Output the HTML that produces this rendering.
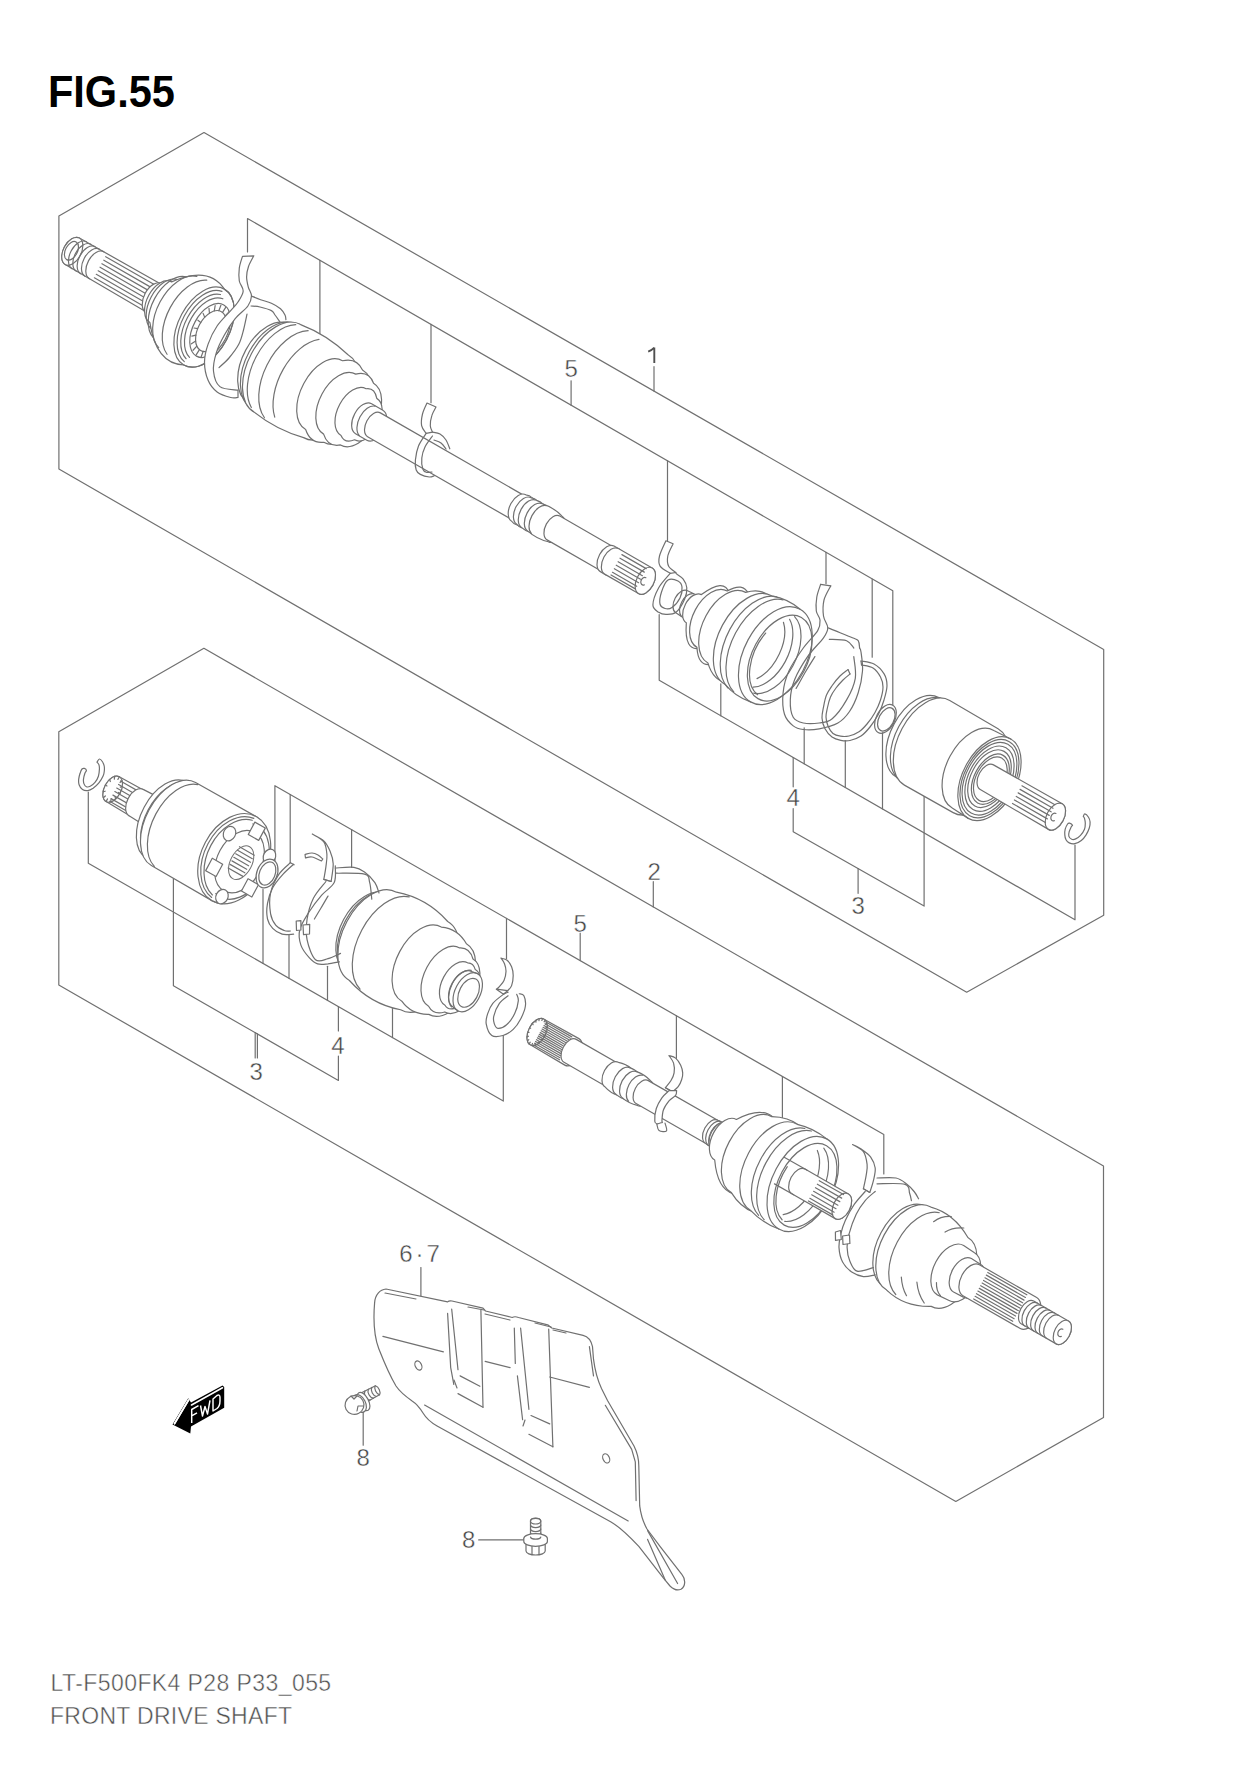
<!DOCTYPE html>
<html><head><meta charset="utf-8"><style>
html,body{margin:0;padding:0;background:#fff;width:1247px;height:1768px;overflow:hidden}
.t{position:absolute;font-family:"Liberation Sans",sans-serif;white-space:nowrap;margin:0;line-height:1}
svg{position:absolute;left:0;top:0}
</style></head><body>
<div class="t" style="left:48px;top:70.3px;font-size:44px;font-weight:bold;color:#000;transform:scaleX(0.943);transform-origin:0 0">FIG.55</div>
<svg width="1247" height="1768" viewBox="0 0 1247 1768" stroke="#707070" stroke-width="1.2" fill="none" stroke-linejoin="round" stroke-linecap="round">
<g id="boxes">
<polyline points="58.9,216.0 204.0,132.5 1103.7,649.5 1103.7,915.3 966.7,992.2 58.9,469.0 58.9,216.0" fill="none" />
<polyline points="58.8,731.8 203.9,648.3 1103.5,1166.0 1103.5,1417.6 955.8,1501.4 58.8,985.0 58.8,731.8" fill="none" />
</g>
<g id="leaders">
<polyline points="247.5,252.0 247.5,218.5 892.8,590.8 892.8,704.7" fill="none" />
<polyline points="319.9,260.3 319.9,339.9" fill="none" />
<polyline points="431.0,324.4 431.0,402.7" fill="none" />
<polyline points="667.5,460.8 667.5,541.4" fill="none" />
<polyline points="826.0,552.3 826.0,583.7" fill="none" />
<polyline points="872.2,579.0 872.2,657.2" fill="none" />
<polyline points="571.1,405.2 571.1,380.8" fill="none" />
<polyline points="654.0,391.1 654.0,366.7" fill="none" />
<polyline points="659.2,614.5 659.2,680.3 1075.0,919.8 1075.0,845.0" fill="none" />
<polyline points="720.8,715.8 720.8,683.8" fill="none" />
<polyline points="804.2,763.8 804.2,727.8" fill="none" />
<polyline points="845.3,787.5 845.3,740.6" fill="none" />
<polyline points="882.5,808.9 882.5,732.9" fill="none" />
<polyline points="793.2,757.5 793.2,786.8" fill="none" />
<polyline points="793.2,808.6 793.2,831.7 924.1,906.1 924.1,795.8" fill="none" />
<polyline points="858.1,868.6 858.1,893.3" fill="none" />
<polyline points="653.3,881.7 653.3,907.0" fill="none" />
<polyline points="274.9,861.3 274.9,785.7 883.8,1134.6 883.8,1174.0" fill="none" />
<polyline points="290.2,794.5 290.2,862.7" fill="none" />
<polyline points="351.6,829.6 351.6,867.5" fill="none" />
<polyline points="506.5,918.4 506.5,958.6" fill="none" />
<polyline points="676.4,1015.8 676.4,1060.0" fill="none" />
<polyline points="782.4,1076.5 782.4,1117.6" fill="none" />
<polyline points="580.2,960.6 580.2,933.0" fill="none" />
<polyline points="88.3,792.0 88.3,863.3 503.3,1101.1 503.3,1035.5" fill="none" />
<polyline points="263.0,963.4 263.0,889.5" fill="none" />
<polyline points="289.0,978.3 289.0,935.0" fill="none" />
<polyline points="327.5,1000.4 327.5,966.3" fill="none" />
<polyline points="392.5,1037.6 392.5,1008.6" fill="none" />
<polyline points="338.4,1006.6 338.4,1031.0" fill="none" />
<polyline points="338.4,1056.0 338.4,1080.4 173.4,985.8 173.4,878.7" fill="none" />
<polyline points="255.2,1032.7 255.2,1058.0" fill="none" />
<polyline points="257.4,1033.9 257.4,1058.0" fill="none" />
<polyline points="420.9,1267.6 420.9,1296.5" fill="none" />
<polyline points="363.2,1410.5 363.2,1445.2" fill="none" />
<polyline points="478.7,1539.9 526.3,1539.9" fill="none" />
</g>
<path d="M374.6,1302.9 C375,1295 380,1289.5 386,1289 L447.6,1301.9 C449,1300.5 450,1300.5 452,1301 L483,1308.1 L485.5,1311 L512.2,1317.5 C514,1316.5 516,1316.5 518.5,1317.5 L547.7,1324.8 L551.8,1328 L583.1,1335.3 C588,1336.5 591,1339.5 592.5,1346.7 L593.5,1359.2 C595,1371 597.5,1380 601.5,1388.5 L607.5,1400.5 L634,1446 C637,1452 638.8,1458 638.8,1466 L639.7,1505.9 C641,1516 643,1522 647,1529 L660,1546.4 L682,1574.7 C685.5,1579 686,1586 681,1589.3 C677,1591 673,1589 670,1586 L663.5,1578.2 L638.8,1546.4 C630,1537 620,1527 610.6,1521.7 L437.1,1426 C430,1422 426,1418 423,1413 C420,1408 417,1404 412.1,1400.9 C405,1396 400,1392 396,1386 C390,1376 384,1362 378.8,1348.8 C374,1336 373,1322 374.6,1302.9 Z" fill="#fff"/>
<polyline points="382.9,1336.3 443.4,1351.9" fill="none" />
<polyline points="485.1,1361.3 510.1,1367.6" fill="none" />
<polyline points="549.7,1377.0 589.4,1387.4" fill="none" />
<polyline points="424.6,1405.1 628.2,1520.9" fill="none" />
<polyline points="589.4,1346.7 593.5,1375.9" fill="none" />
<polyline points="605.3,1405.3 631.7,1449.4 635.3,1461.8 636.1,1500.6" fill="none" />
<polyline points="647.6,1530.6 677.6,1583.5" fill="none" />
<polyline points="647.6,1539.4 665.2,1580.0" fill="none" />
<polyline points="447.6,1313.4 450.7,1367.6 453.8,1384.3" fill="none" />
<polyline points="451.7,1309.2 458.0,1369.7" fill="none" />
<polyline points="480.9,1310.2 483.0,1407.2" fill="none" />
<polyline points="458.0,1393.6 483.0,1407.2" fill="none" />
<polyline points="460.1,1375.9 479.9,1386.3" fill="none" />
<polyline points="457.0,1388.0 454.0,1380.0" fill="none" />
<polyline points="514.3,1328.0 515.3,1363.4" fill="none" />
<polyline points="520.6,1328.0 528.9,1409.3" fill="none" />
<polyline points="517.4,1375.9 522.6,1419.7" fill="none" />
<polyline points="548.7,1329.0 552.9,1446.8" fill="none" />
<polyline points="528.9,1434.3 552.9,1446.8" fill="none" />
<polyline points="531.0,1415.5 549.7,1423.9" fill="none" />
<polyline points="525.0,1420.0 523.0,1426.0" fill="none" />
<polyline points="385.0,1293.0 416.0,1299.0" fill="none" />
<polyline points="468.0,1307.0 484.0,1310.0" fill="none" />
<polyline points="485.0,1314.0 510.0,1320.0" fill="none" />
<polyline points="535.0,1323.0 551.0,1327.0" fill="none" />
<polyline points="553.0,1330.0 566.0,1333.0" fill="none" />
<ellipse cx="418.4" cy="1365.5" rx="3.2" ry="4.8" transform="rotate(-25 418.4 1365.5)"/>
<ellipse cx="606.2" cy="1458.4" rx="3.2" ry="4.8" transform="rotate(-25 606.2 1458.4)"/>
<g>
<path d="M362,1392.5 L375.5,1385.8 A3.6,5.6 -28 0 1 379.5,1394.8 L367.5,1401.5" fill="#fff"/>
<path d="M364.9,1391.0 A3.6,5.6 -28 0 0 370.2,1400.0" fill="none"/>
<path d="M368.4,1389.2 A3.6,5.6 -28 0 0 373.4,1398.2" fill="none"/>
<path d="M371.8,1387.5 A3.6,5.6 -28 0 0 376.5,1396.5" fill="none"/>
<path d="M375.2,1385.8 A3.6,5.6 -28 0 0 379.6,1394.8" fill="none"/>
<ellipse cx="363.5" cy="1401.5" rx="5" ry="10" transform="rotate(-28 363.5 1401.5)" fill="#fff"/>
<ellipse cx="359.5" cy="1403.5" rx="6" ry="9.5" transform="rotate(-28 359.5 1403.5)" fill="#fff"/>
<ellipse cx="354.5" cy="1405" rx="9.5" ry="9.3" transform="rotate(-28 354.5 1405)" fill="#fff"/>
<path d="M351,1396 L354,1399 L357,1396 M357,1411 L358,1406 L363,1406" fill="none"/>
</g>
<g>
<path d="M530.5,1537 L530.5,1521 A5.2,3 0 0 1 540.8,1521 L540.8,1537" fill="#fff"/>
<ellipse cx="535.6" cy="1521" rx="5.2" ry="3"/>
<path d="M530.5,1525 A5.2,3 0 0 0 540.8,1525" fill="none"/>
<path d="M530.5,1529 A5.2,3 0 0 0 540.8,1529" fill="none"/>
<path d="M530.5,1533 A5.2,3 0 0 0 540.8,1533" fill="none"/>
<path d="M526,1543 L526,1551 A9.6,4 0 0 0 545.2,1551 L545.2,1543" fill="#fff"/>
<path d="M532,1546 L532,1554.5 M539,1546 L539,1554.5" fill="none"/>
<ellipse cx="535.6" cy="1538.5" rx="11.8" ry="4.8" fill="#fff"/>
<path d="M523.8,1538.5 L523.8,1541.5 A11.8,4.8 0 0 0 547.4,1541.5 L547.4,1538.5" fill="#fff"/>
<path d="M530.5,1537 A5.2,2.5 0 0 0 540.8,1537" fill="none"/>
</g>
<g stroke="none">
<polygon points="172.5,1424.5 188.2,1398.2 191,1402.5 222.5,1385.5 224.2,1387 224.2,1407.8 191,1426.4 190.3,1433.5" fill="#000"/>
<polyline points="174.5,1423.8 188.6,1400.2 M0,0" fill="none" stroke="#fff" stroke-width="1.6"/>
<polyline points="191.5,1405 222.5,1387.8" fill="none" stroke="#fff" stroke-width="1.6"/>
<path d="M174.5,1423.5 L188.5,1400" stroke="#fff" stroke-width="1.6"/>
<g fill="none" stroke="#fff" stroke-width="1.45" stroke-linecap="butt">
<path d="M191.7,1423 L191.7,1409.5 L198.5,1405.7 M191.7,1415.8 L197,1412.8"/>
<path d="M200.5,1405.5 L202.5,1416 L205,1406.5 L207.5,1414 L210,1400.3"/>
<path d="M213,1399 L213,1411 L217,1408.5 Q220,1406 220,1401 L220,1397.5 Q220,1394 217,1395.5 Z"/>
</g></g>
<g transform="translate(72.3,251.3) rotate(29.9) skewX(1.72)">
<path d="M0.0,-15.0 A9.0,15.0 0 0 0 0.0,15.0 L96.0,15.8 A9.5,15.8 0 0 0 96.0,-15.8 Z" fill="#fff"/>
<ellipse cx="0.0" cy="0" rx="9.0" ry="15.0" fill="#fff" />
<ellipse cx="-1.0" cy="0" rx="6.0" ry="10.0" fill="none" />
<path d="M8.0,15.3 A9.2,15.3 0 0 1 8.0,-15.3" fill="none" />
<path d="M13.0,15.3 A9.2,15.3 0 0 1 13.0,-15.3" fill="none" />
<path d="M18.0,15.3 A9.2,15.3 0 0 1 18.0,-15.3" fill="none" />
<path d="M23.0,15.3 A9.2,15.3 0 0 1 23.0,-15.3" fill="none" />
<path d="M28.0,15.3 A9.2,15.3 0 0 1 28.0,-15.3" fill="none" />
<polyline points="32.0,-12.0 92.0,-12.0" fill="none" />
<polyline points="32.0,-8.0 92.0,-8.0" fill="none" />
<polyline points="32.0,-4.0 92.0,-4.0" fill="none" />
<polyline points="32.0,0.0 92.0,0.0" fill="none" />
<polyline points="32.0,4.0 92.0,4.0" fill="none" />
<polyline points="32.0,8.0 92.0,8.0" fill="none" />
<polyline points="32.0,12.0 92.0,12.0" fill="none" />
<path d="M94.0,-16.5 A9.9,16.5 0 0 0 94.0,16.5 Q99.0,19.8 104.0,22.0 A13.2,22.0 0 0 0 104.0,-22.0 Q99.0,-19.8 94.0,-16.5 Z" fill="#fff"/>
<path d="M102.0,-23.0 A13.8,23.0 0 0 0 102.0,23.0 Q127.0,56.0 152.0,43.0 A25.8,43.0 0 0 0 152.0,-43.0 Q127.0,-56.0 102.0,-23.0 Z" fill="#fff"/>
<path d="M105.1,27.6 A16.8,28.0 0 0 1 105.1,-27.6" fill="none" />
<path d="M112.4,34.5 A21.0,35.0 0 0 1 112.4,-34.5" fill="none" />
<path d="M121.7,40.4 A24.6,41.0 0 0 1 121.7,-40.4" fill="none" />
<path d="M132.2,42.0 A26.1,43.5 0 0 1 132.2,-42.0" fill="none" />
<ellipse cx="152.0" cy="0" rx="25.8" ry="43.0" fill="none" />
<path d="M150.9,39.8 A24.0,40.0 0 0 1 150.9,-39.8" fill="none" />
<path d="M151.1,36.4 A22.2,37.0 0 0 1 151.1,-36.4" fill="none" />
<path d="M153.5,33.5 A20.4,34.0 0 0 1 155.2,-33.9" fill="none" />
<ellipse cx="159.0" cy="0" rx="17.4" ry="29.0" fill="none" />
<ellipse cx="160.0" cy="0" rx="13.2" ry="22.0" fill="none" />
<polyline points="166.6,19.1 168.4,24.2" fill="none" />
<polyline points="162.7,21.5 163.5,27.4" fill="none" />
<polyline points="158.6,21.9 158.2,27.8" fill="none" />
<polyline points="154.6,20.1 153.2,25.6" fill="none" />
<polyline points="151.2,16.3 148.8,20.8" fill="none" />
<polyline points="148.6,11.0 145.5,14.0" fill="none" />
<polyline points="147.1,4.6 143.6,5.8" fill="none" />
<polyline points="146.9,-2.3 143.3,-2.9" fill="none" />
<polyline points="147.9,-8.9 144.7,-11.4" fill="none" />
<polyline points="150.2,-14.7 147.5,-18.7" fill="none" />
<polyline points="153.4,-19.1 151.6,-24.2" fill="none" />
<polyline points="157.3,-21.5 156.5,-27.4" fill="none" />
<polyline points="161.4,-21.9 161.8,-27.8" fill="none" />
<polyline points="165.4,-20.1 166.8,-25.6" fill="none" />
<g transform="translate(0,-0.8)">
<path d="M226.0,-44.0 A26.4,44.0 0 0 0 226.0,44.0 Q232.0,50.5 238.0,49.0 A29.4,49.0 0 0 0 238.0,-49.0 Q232.0,-50.5 226.0,-44.0 Z" fill="#fff"/>
<path d="M232.0,47.5 A28.5,47.5 0 0 1 232.0,-47.5" fill="none" />
<path d="M236.0,-49.5 A29.7,49.5 0 0 0 236.0,49.5 Q264.0,53.8 292.0,47.0 A28.2,47.0 0 0 0 292.0,-47.0 Q264.0,-53.8 236.0,-49.5 Z" fill="#fff"/>
<path d="M231.7,47.0 A30.0,50.0 0 0 1 231.7,-47.0" fill="none" />
<path d="M248.1,49.3 A30.6,51.0 0 0 1 245.5,-47.9" fill="none" />
<path d="M256.9,43.7 A30.3,50.5 0 0 1 259.2,-45.8" fill="none" />
<path d="M290.0,-39.0 A23.4,39.0 0 0 0 290.0,39.0 Q301.0,49.0 312.0,41.0 A24.6,41.0 0 0 0 312.0,-41.0 Q301.0,-49.0 290.0,-39.0 Z" fill="#fff"/>
<path d="M308.0,-34.0 A20.4,34.0 0 0 0 308.0,34.0 Q318.0,43.5 328.0,35.0 A21.0,35.0 0 0 0 328.0,-35.0 Q318.0,-43.5 308.0,-34.0 Z" fill="#fff"/>
<path d="M324.0,-26.5 A15.9,26.5 0 0 0 324.0,26.5 Q331.0,32.0 338.0,23.5 A14.1,23.5 0 0 0 338.0,-23.5 Q331.0,-32.0 324.0,-26.5 Z" fill="#fff"/>
</g>
<path d="M336.0,-17.0 A10.2,17.0 0 0 0 336.0,17.0 L349.0,17.0 A10.2,17.0 0 0 0 349.0,-17.0 Z" fill="#fff"/>
<path d="M340.2,16.7 A10.2,17.0 0 0 1 340.2,-16.7" fill="none" />
<path d="M348.0,-13.5 A8.1,13.5 0 0 0 348.0,13.5 L518.0,13.5 A8.1,13.5 0 0 0 518.0,-13.5 Z" fill="#fff"/>
<path d="M515.0,-15.0 A9.0,15.0 0 0 0 515.0,15.0 Q518.5,16.8 522.0,15.5 A9.3,15.5 0 0 0 522.0,-15.5 Q518.5,-16.8 515.0,-15.0 Z" fill="#fff"/>
<path d="M521.0,-15.0 A9.0,15.0 0 0 0 521.0,15.0 Q524.5,16.8 528.0,15.5 A9.3,15.5 0 0 0 528.0,-15.5 Q524.5,-16.8 521.0,-15.0 Z" fill="#fff"/>
<path d="M527.0,-15.5 A9.3,15.5 0 0 0 527.0,15.5 Q531.0,16.5 535.0,15.5 A9.3,15.5 0 0 0 535.0,-15.5 Q531.0,-16.5 527.0,-15.5 Z" fill="#fff"/>
<path d="M534.0,-15.5 A9.3,15.5 0 0 0 534.0,15.5 Q545.5,18.0 557.0,14.5 A8.7,14.5 0 0 0 557.0,-14.5 Q545.5,-18.0 534.0,-15.5 Z" fill="#fff"/>
<path d="M538.3,15.8 A9.6,16.0 0 0 1 538.3,-15.8" fill="none" />
<path d="M555.0,-13.5 A8.1,13.5 0 0 0 555.0,13.5 L620.0,13.5 A8.1,13.5 0 0 0 620.0,-13.5 Z" fill="#fff"/>
<path d="M617.0,-14.5 A8.7,14.5 0 0 0 617.0,14.5 L623.0,14.5 A8.7,14.5 0 0 0 623.0,-14.5 Z" fill="#fff"/>
<path d="M622.0,-14.5 A8.7,14.5 0 0 0 622.0,14.5 L661.0,14.5 A8.7,14.5 0 0 0 661.0,-14.5 Z" fill="#fff"/>
<ellipse cx="661.0" cy="0" rx="8.7" ry="14.5" fill="#fff" />
<polyline points="628.0,-11.0 656.0,-11.0" fill="none" />
<polyline points="628.0,-7.0 656.0,-7.0" fill="none" />
<polyline points="628.0,-3.0 656.0,-3.0" fill="none" />
<polyline points="628.0,1.0 656.0,1.0" fill="none" />
<polyline points="628.0,5.0 656.0,5.0" fill="none" />
<polyline points="628.0,9.0 656.0,9.0" fill="none" />
<polyline points="628.0,12.0 656.0,12.0" fill="none" />
<path d="M660,-3 A3,4 0 1 0 662,4" fill="none"/>
<path d="M703.0,-12.5 A7.5,12.5 0 0 0 703.0,12.5 L719.0,13.5 A8.1,13.5 0 0 0 719.0,-13.5 Z" fill="#fff"/>
<path d="M709.6,12.8 A7.8,13.0 0 0 1 709.6,-12.8" fill="none" />
<path d="M717.0,-16.0 A9.6,16.0 0 0 0 717.0,16.0 Q729.0,42.5 741.0,31.0 A18.6,31.0 0 0 0 741.0,-31.0 Q729.0,-42.5 717.0,-16.0 Z" fill="#fff"/>
<path d="M738.0,-32.0 A19.2,32.0 0 0 0 738.0,32.0 Q748.0,48.0 758.0,40.0 A24.0,40.0 0 0 0 758.0,-40.0 Q748.0,-48.0 738.0,-32.0 Z" fill="#fff"/>
<path d="M755.0,-40.0 A24.0,40.0 0 0 0 755.0,40.0 Q768.5,53.5 782.0,47.0 A28.2,47.0 0 0 0 782.0,-47.0 Q768.5,-53.5 755.0,-40.0 Z" fill="#fff"/>
<path d="M780.0,-50.0 A30.0,50.0 0 0 0 780.0,50.0 Q795.5,55.8 811.0,52.5 A31.5,52.5 0 0 0 811.0,-52.5 Q795.5,-55.8 780.0,-50.0 Z" fill="#fff"/>
<path d="M811.0,-52.5 A31.5,52.5 0 0 0 811.0,52.5" fill="none"/>
<path d="M784.5,51.7 A31.5,52.5 0 0 1 784.5,-51.7" fill="none" />
<path d="M791.5,52.2 A31.8,53.0 0 0 1 791.5,-52.2" fill="none" />
<ellipse cx="816.0" cy="0" rx="27.6" ry="46.0" fill="none" />
<path d="M809.6,-43.3 A26.4,44.0 0 0 1 809.6,43.3" fill="none" />
<path d="M806.4,-38.5 A24.6,41.0 0 0 1 806.4,38.5" fill="none" />
<path d="M802.4,-32.9 A22.8,38.0 0 0 1 805.7,29.1" fill="none" />
<path d="M813.8,42.8 A25.8,43.0 0 0 1 791.8,-14.7" fill="none" />
<ellipse cx="938.0" cy="0" rx="9.3" ry="15.5" fill="none" />
<ellipse cx="939.0" cy="0" rx="7.5" ry="12.5" fill="none" />
<path d="M975.0,-45.0 A27.0,45.0 0 0 0 975.0,45.0 L988.0,47.0 A28.2,47.0 0 0 0 988.0,-47.0 Z" fill="#fff"/>
<path d="M976.2,45.3 A27.6,46.0 0 0 1 976.2,-45.3" fill="none" />
<path d="M986.0,-48.0 A28.8,48.0 0 0 0 986.0,48.0 L1042.0,47.5 A28.5,47.5 0 0 0 1042.0,-47.5 Z" fill="#fff"/>
<path d="M1039.0,-44.0 A26.4,44.0 0 0 0 1039.0,44.0 L1058.0,45.0 A27.0,45.0 0 0 0 1058.0,-45.0 Z" fill="#fff"/>
<path d="M1058.0,-45.0 A27.0,45.0 0 0 0 1058.0,45.0" fill="none"/>
<ellipse cx="1058.0" cy="0" rx="25.2" ry="42.0" fill="none" />
<ellipse cx="1058.0" cy="0" rx="23.4" ry="39.0" fill="none" />
<ellipse cx="1058.0" cy="0" rx="21.0" ry="35.0" fill="none" />
<ellipse cx="1058.0" cy="0" rx="18.6" ry="31.0" fill="none" />
<ellipse cx="1059.0" cy="0" rx="16.2" ry="27.0" fill="none" />
<ellipse cx="1059.0" cy="0" rx="14.4" ry="24.0" fill="none" />
<path d="M1055.0,-14.0 A8.4,14.0 0 0 0 1055.0,14.0 L1134.0,14.5 A8.7,14.5 0 0 0 1134.0,-14.5 Z" fill="#fff"/>
<ellipse cx="1134.0" cy="0" rx="8.7" ry="14.5" fill="#fff" />
<polyline points="1090.0,-10.0 1128.0,-10.0" fill="none" />
<polyline points="1090.0,-6.0 1128.0,-6.0" fill="none" />
<polyline points="1090.0,-2.0 1128.0,-2.0" fill="none" />
<polyline points="1090.0,2.0 1128.0,2.0" fill="none" />
<polyline points="1090.0,6.0 1128.0,6.0" fill="none" />
<polyline points="1090.0,10.0 1128.0,10.0" fill="none" />
<path d="M1133,-3 A3,4 0 1 0 1135,4" fill="none"/>
</g>
<path d="M1083.3,816.4 C1083.6,816.0 1084.0,813.7 1084.9,813.8 C1085.8,813.9 1087.6,815.8 1088.5,817.2 C1089.4,818.6 1090.0,820.2 1090.1,822.0 C1090.2,823.8 1090.0,825.9 1089.3,828.0 C1088.6,830.1 1087.4,832.8 1086.1,834.9 C1084.8,837.0 1083.2,839.0 1081.3,840.5 C1079.4,842.0 1076.9,843.3 1074.9,843.7 C1072.9,844.1 1070.7,843.6 1069.2,842.9 C1067.7,842.2 1066.7,841.0 1066.0,839.7 C1065.3,838.4 1064.9,836.6 1064.8,834.9 C1064.7,833.1 1064.7,831.0 1065.2,829.2 C1065.7,827.4 1066.9,825.0 1067.6,824.0 C1068.3,823.0 1068.8,823.0 1069.6,823.2 C1070.4,823.4 1072.2,824.6 1072.5,825.2 C1072.8,825.8 1071.8,825.7 1071.3,826.8 C1070.8,827.9 1069.6,830.2 1069.2,831.7 C1068.8,833.2 1068.4,834.8 1068.8,836.1 C1069.2,837.4 1070.5,838.8 1071.7,839.3 C1072.9,839.8 1074.2,839.6 1075.7,838.9 C1077.2,838.2 1079.0,836.9 1080.5,835.3 C1082.0,833.7 1083.7,831.2 1084.5,829.2 C1085.3,827.2 1085.3,825.0 1085.3,823.2 C1085.3,821.4 1084.8,819.5 1084.5,818.4 C1084.2,817.3 1083.5,816.7 1083.3,816.4" fill="none" />
<g transform="translate(112.7,789.2) rotate(29.77) skewX(1.72)">
<path d="M0.0,-14.0 A8.4,14.0 0 0 0 0.0,14.0 L29.0,14.5 A8.7,14.5 0 0 0 29.0,-14.5 Z" fill="#fff"/>
<ellipse cx="0.0" cy="0" rx="8.4" ry="14.0" fill="#fff" />
<polyline points="3.0,-11.0 29.0,-11.0" fill="none" />
<polyline points="3.0,-7.0 29.0,-7.0" fill="none" />
<polyline points="3.0,-3.0 29.0,-3.0" fill="none" />
<polyline points="3.0,1.0 29.0,1.0" fill="none" />
<polyline points="3.0,5.0 29.0,5.0" fill="none" />
<polyline points="3.0,9.0 29.0,9.0" fill="none" />
<polyline points="3.0,12.0 29.0,12.0" fill="none" />
<polyline points="8.4,0.0 6.6,0.0" fill="none" />
<polyline points="7.3,7.0 5.7,5.5" fill="none" />
<polyline points="4.2,12.1 3.3,9.5" fill="none" />
<polyline points="0.0,14.0 0.0,11.0" fill="none" />
<polyline points="-4.2,12.1 -3.3,9.5" fill="none" />
<polyline points="-7.3,7.0 -5.7,5.5" fill="none" />
<polyline points="-8.4,0.0 -6.6,0.0" fill="none" />
<polyline points="-7.3,-7.0 -5.7,-5.5" fill="none" />
<polyline points="-4.2,-12.1 -3.3,-9.5" fill="none" />
<polyline points="-0.0,-14.0 -0.0,-11.0" fill="none" />
<polyline points="4.2,-12.1 3.3,-9.5" fill="none" />
<polyline points="7.3,-7.0 5.7,-5.5" fill="none" />
<path d="M27.0,-15.0 A9.0,15.0 0 0 0 27.0,15.0 L64.0,16.5 A9.9,16.5 0 0 0 64.0,-16.5 Z" fill="#fff"/>
<path d="M62.0,-43.0 A25.8,43.0 0 0 0 62.0,43.0 L72.0,44.0 A26.4,44.0 0 0 0 72.0,-44.0 Z" fill="#fff"/>
<path d="M62.5,42.8 A26.1,43.5 0 0 1 62.5,-42.8" fill="none" />
<path d="M70.0,-47.0 A28.2,47.0 0 0 0 70.0,47.0 L140.0,47.5 A28.5,47.5 0 0 0 140.0,-47.5 Z" fill="#fff"/>
<path d="M73.1,46.3 A28.2,47.0 0 0 1 73.1,-46.3" fill="none" />
<ellipse cx="140.0" cy="0" rx="33.2" ry="47.5" fill="#fff" />
<path d="M138.3,44.8 A31.5,45.0 0 0 1 138.3,-44.8" fill="none" />
<path d="M137.8,42.3 A30.1,43.0 0 0 1 137.8,-42.3" fill="none" />
<path d="M140.1,-39.4 A28.0,40.0 0 1 1 140.1,39.4" fill="none" />
<ellipse cx="146.0" cy="0" rx="22.4" ry="33.0" fill="none" />
<ellipse cx="148.0" cy="0" rx="10.8" ry="18.0" fill="none" stroke-width="1"/>
<polyline points="139.0,-13.0 156.0,-13.0" fill="none" />
<polyline points="139.0,-9.0 156.0,-9.0" fill="none" />
<polyline points="139.0,-5.0 156.0,-5.0" fill="none" />
<polyline points="139.0,-1.0 156.0,-1.0" fill="none" />
<polyline points="139.0,3.0 156.0,3.0" fill="none" />
<polyline points="139.0,7.0 156.0,7.0" fill="none" />
<polyline points="139.0,11.0 156.0,11.0" fill="none" />
<rect x="161.6" y="10.5" width="12" height="14" fill="#fff"/>
<rect x="120.4" y="10.5" width="12" height="14" fill="#fff"/>
<rect x="141.0" y="-42.0" width="12" height="14" fill="#fff"/>
<ellipse cx="147.0" cy="39.0" rx="6" ry="7.5" fill="#fff"/>
<ellipse cx="124.0" cy="-19.5" rx="6" ry="7.5" fill="#fff"/>
<ellipse cx="170.0" cy="-19.5" rx="6" ry="7.5" fill="#fff"/>
<g transform="translate(0,-1.5)">
<path d="M291.0,-43.0 A25.8,43.0 0 0 0 291.0,43.0 Q296.0,48.5 301.0,48.0 A28.8,48.0 0 0 0 301.0,-48.0 Q296.0,-48.5 291.0,-43.0 Z" fill="#fff"/>
<path d="M295.0,46.0 A27.6,46.0 0 0 1 295.0,-46.0" fill="none" />
<path d="M298.0,47.5 A28.5,47.5 0 0 1 298.0,-47.5" fill="none" />
<path d="M299.0,-50.0 A30.0,50.0 0 0 0 299.0,50.0 Q328.5,60.0 358.0,50.0 A30.0,50.0 0 0 0 358.0,-50.0 Q328.5,-60.0 299.0,-50.0 Z" fill="#fff"/>
<path d="M312.5,52.2 A31.8,53.0 0 0 1 312.5,-52.2" fill="none" />
<path d="M355.0,-42.0 A25.2,42.0 0 0 0 355.0,42.0 Q370.0,49.0 385.0,40.0 A24.0,40.0 0 0 0 385.0,-40.0 Q370.0,-49.0 355.0,-42.0 Z" fill="#fff"/>
<path d="M381.0,-33.0 A19.8,33.0 0 0 0 381.0,33.0 Q389.5,38.5 398.0,30.0 A18.0,30.0 0 0 0 398.0,-30.0 Q389.5,-38.5 381.0,-33.0 Z" fill="#fff"/>
<path d="M395.0,-24.0 A14.4,24.0 0 0 0 395.0,24.0 Q400.0,27.0 405.0,22.0 A13.2,22.0 0 0 0 405.0,-22.0 Q400.0,-27.0 395.0,-24.0 Z" fill="#fff"/>
</g>
<path d="M403.0,-20.0 A12.0,20.0 0 0 0 403.0,20.0 L409.0,21.0 A12.6,21.0 0 0 0 409.0,-21.0 Z" fill="#fff"/>
<path d="M409.0,-21.0 A12.6,21.0 0 0 0 409.0,21.0" fill="none"/>
<ellipse cx="410.0" cy="0" rx="9.3" ry="15.5" fill="none" />
<path d="M401.8,20.7 A12.6,21.0 0 0 1 401.8,-20.7" fill="none" />
<path d="M489.0,-14.5 A8.7,14.5 0 0 0 489.0,14.5 L529.0,15.0 A9.0,15.0 0 0 0 529.0,-15.0 Z" fill="#fff"/>
<ellipse cx="489.0" cy="0" rx="8.7" ry="14.5" fill="#fff" />
<polyline points="492.0,-13.0 521.9,-13.0" fill="none" />
<polyline points="492.0,-11.0 521.3,-11.0" fill="none" />
<polyline points="492.0,-9.0 520.7,-9.0" fill="none" />
<polyline points="492.0,-7.0 520.1,-7.0" fill="none" />
<polyline points="492.0,-5.0 519.5,-5.0" fill="none" />
<polyline points="492.0,-3.0 518.9,-3.0" fill="none" />
<polyline points="492.0,-1.0 518.3,-1.0" fill="none" />
<polyline points="492.0,1.0 518.3,1.0" fill="none" />
<polyline points="492.0,3.0 518.9,3.0" fill="none" />
<polyline points="492.0,5.0 519.5,5.0" fill="none" />
<polyline points="492.0,7.0 520.1,7.0" fill="none" />
<polyline points="492.0,9.0 520.7,9.0" fill="none" />
<polyline points="492.0,11.0 521.3,11.0" fill="none" />
<polyline points="492.0,13.0 521.9,13.0" fill="none" />
<polyline points="497.7,0.0 496.5,0.0" fill="none" />
<polyline points="497.2,5.0 496.0,4.3" fill="none" />
<polyline points="495.7,9.3 494.7,8.0" fill="none" />
<polyline points="493.4,12.6 492.8,10.8" fill="none" />
<polyline points="490.5,14.3 490.3,12.3" fill="none" />
<polyline points="487.5,14.3 487.7,12.3" fill="none" />
<polyline points="484.6,12.6 485.2,10.8" fill="none" />
<polyline points="482.3,9.3 483.3,8.0" fill="none" />
<polyline points="480.8,5.0 482.0,4.3" fill="none" />
<polyline points="480.3,0.0 481.5,0.0" fill="none" />
<polyline points="480.8,-5.0 482.0,-4.3" fill="none" />
<polyline points="482.3,-9.3 483.3,-8.0" fill="none" />
<polyline points="484.6,-12.6 485.2,-10.8" fill="none" />
<polyline points="487.5,-14.3 487.7,-12.3" fill="none" />
<polyline points="490.5,-14.3 490.3,-12.3" fill="none" />
<polyline points="493.4,-12.6 492.8,-10.8" fill="none" />
<polyline points="495.7,-9.3 494.7,-8.0" fill="none" />
<polyline points="497.2,-5.0 496.0,-4.3" fill="none" />
<path d="M527.0,-13.0 A7.8,13.0 0 0 0 527.0,13.0 L578.0,13.0 A7.8,13.0 0 0 0 578.0,-13.0 Z" fill="#fff"/>
<path d="M575.0,-14.0 A8.4,14.0 0 0 0 575.0,14.0 Q582.5,16.5 590.0,15.0 A9.0,15.0 0 0 0 590.0,-15.0 Q582.5,-16.5 575.0,-14.0 Z" fill="#fff"/>
<path d="M588.0,-15.0 A9.0,15.0 0 0 0 588.0,15.0 Q593.0,16.0 598.0,15.0 A9.0,15.0 0 0 0 598.0,-15.0 Q593.0,-16.0 588.0,-15.0 Z" fill="#fff"/>
<path d="M596.0,-15.0 A9.0,15.0 0 0 0 596.0,15.0 Q604.0,16.5 612.0,14.0 A8.4,14.0 0 0 0 612.0,-14.0 Q604.0,-16.5 596.0,-15.0 Z" fill="#fff"/>
<path d="M602.4,14.8 A9.0,15.0 0 0 1 602.4,-14.8" fill="none" />
<path d="M610.0,-13.0 A7.8,13.0 0 0 0 610.0,13.0 L705.0,13.0 A7.8,13.0 0 0 0 705.0,-13.0 Z" fill="#fff"/>
<path d="M690.0,-13.0 A7.8,13.0 0 0 0 690.0,13.0 L701.0,14.5 A8.7,14.5 0 0 0 701.0,-14.5 Z" fill="#fff"/>
<path d="M692.6,13.3 A8.1,13.5 0 0 1 692.6,-13.3" fill="none" />
<path d="M696.5,13.8 A8.4,14.0 0 0 1 696.5,-13.8" fill="none" />
<path d="M699.0,-15.0 A9.0,15.0 0 0 0 699.0,15.0 Q703.5,19.5 708.0,22.0 A13.2,22.0 0 0 0 708.0,-22.0 Q703.5,-19.5 699.0,-15.0 Z" fill="#fff"/>
<path d="M706.0,-23.0 A13.8,23.0 0 0 0 706.0,23.0 Q722.0,47.0 738.0,43.0 A25.8,43.0 0 0 0 738.0,-43.0 Q722.0,-47.0 706.0,-23.0 Z" fill="#fff"/>
<path d="M736.0,-43.0 A25.8,43.0 0 0 0 736.0,43.0 Q750.5,51.0 765.0,49.0 A29.4,49.0 0 0 0 765.0,-49.0 Q750.5,-51.0 736.0,-43.0 Z" fill="#fff"/>
<path d="M762.0,-49.0 A29.4,49.0 0 0 0 762.0,49.0 Q778.5,54.0 795.0,51.0 A30.6,51.0 0 0 0 795.0,-51.0 Q778.5,-54.0 762.0,-49.0 Z" fill="#fff"/>
<path d="M795.0,-51.0 A30.6,51.0 0 0 0 795.0,51.0" fill="none"/>
<path d="M770.8,49.2 A30.0,50.0 0 0 1 770.8,-49.2" fill="none" />
<path d="M777.7,50.2 A30.6,51.0 0 0 1 777.7,-50.2" fill="none" />
<ellipse cx="798.0" cy="0" rx="27.0" ry="45.0" fill="none" />
<path d="M796.7,-41.5 A25.8,43.0 0 0 1 796.7,41.5" fill="none" />
<path d="M792.1,-36.3 A24.0,40.0 0 0 1 792.1,36.3" fill="none" />
<path d="M793.6,41.4 A25.2,42.0 0 0 1 773.2,-7.3" fill="none" />
<path d="M790.0,-14.0 A8.4,14.0 0 0 0 790.0,14.0 L840.0,14.0 A8.4,14.0 0 0 0 840.0,-14.0 Z" fill="#fff"/>
<ellipse cx="840.0" cy="0" rx="8.4" ry="14.0" fill="#fff" />
<polyline points="808.0,-11.0 836.0,-11.0" fill="none" />
<polyline points="808.0,-7.0 836.0,-7.0" fill="none" />
<polyline points="808.0,-3.0 836.0,-3.0" fill="none" />
<polyline points="808.0,1.0 836.0,1.0" fill="none" />
<polyline points="808.0,5.0 836.0,5.0" fill="none" />
<polyline points="808.0,9.0 836.0,9.0" fill="none" />
<polyline points="808.0,12.0 836.0,12.0" fill="none" />
<polyline points="792.0,-14.0 766.0,-14.0" fill="none" />
<polyline points="792.0,14.0 770.0,14.0" fill="none" />
<g transform="translate(0,3.5)">
<path d="M914.0,-45.0 A27.0,45.0 0 0 0 914.0,45.0 L921.0,47.0 A28.2,47.0 0 0 0 921.0,-47.0 Z" fill="#fff"/>
<path d="M919.0,-47.0 A28.2,47.0 0 0 0 919.0,47.0 Q942.5,53.0 966.0,39.0 A23.4,39.0 0 0 0 966.0,-39.0 Q942.5,-53.0 919.0,-47.0 Z" fill="#fff"/>
<path d="M929.1,46.3 A28.2,47.0 0 0 1 929.1,-46.3" fill="none" />
</g>
<g transform="translate(0,1.5)">
<path d="M966.0,-28.0 A16.8,28.0 0 0 0 966.0,28.0 L979.0,27.0 A16.2,27.0 0 0 0 979.0,-27.0 Z" fill="#fff"/>
<path d="M969.1,27.1 A16.5,27.5 0 0 1 959.4,17.7" fill="none" />
</g>
<path d="M979.0,-19.0 A11.4,19.0 0 0 0 979.0,19.0 L990.0,18.5 A11.1,18.5 0 0 0 990.0,-18.5 Z" fill="#fff"/>
<path d="M989.0,-17.5 A10.5,17.5 0 0 0 989.0,17.5 L1055.0,17.5 A10.5,17.5 0 0 0 1055.0,-17.5 Z" fill="#fff"/>
<polyline points="1000.0,-15.0 1045.0,-15.0" fill="none" />
<polyline points="1000.0,-12.0 1045.0,-12.0" fill="none" />
<polyline points="1000.0,-9.0 1045.0,-9.0" fill="none" />
<polyline points="1000.0,-6.0 1045.0,-6.0" fill="none" />
<polyline points="1000.0,-3.0 1045.0,-3.0" fill="none" />
<polyline points="1000.0,0.0 1045.0,0.0" fill="none" />
<polyline points="1000.0,3.0 1045.0,3.0" fill="none" />
<polyline points="1000.0,6.0 1045.0,6.0" fill="none" />
<polyline points="1000.0,9.0 1045.0,9.0" fill="none" />
<polyline points="1000.0,12.0 1045.0,12.0" fill="none" />
<polyline points="1000.0,15.0 1045.0,15.0" fill="none" />
<path d="M1054.0,-13.0 A7.8,13.0 0 0 0 1054.0,13.0 L1094.0,13.0 A7.8,13.0 0 0 0 1094.0,-13.0 Z" fill="#fff"/>
<path d="M1058.0,13.0 A7.8,13.0 0 0 1 1058.0,-13.0" fill="none" />
<path d="M1063.0,13.0 A7.8,13.0 0 0 1 1063.0,-13.0" fill="none" />
<path d="M1068.0,13.0 A7.8,13.0 0 0 1 1068.0,-13.0" fill="none" />
<path d="M1073.0,13.0 A7.8,13.0 0 0 1 1073.0,-13.0" fill="none" />
<path d="M1078.0,13.0 A7.8,13.0 0 0 1 1078.0,-13.0" fill="none" />
<path d="M1083.0,13.0 A7.8,13.0 0 0 1 1083.0,-13.0" fill="none" />
<ellipse cx="1094.0" cy="0" rx="7.8" ry="13.0" fill="#fff" />
<path d="M1093,-3 A3,4 0 1 0 1095,4" fill="none"/>
</g>
<path d="M97.0,762.2 C97.4,761.7 98.5,759.1 99.4,759.0 C100.3,758.9 101.5,760.3 102.3,761.5 C103.1,762.7 103.9,764.4 104.2,766.0 C104.5,767.6 104.5,769.4 104.3,771.0 C104.1,772.6 104.1,773.7 103.2,775.7 C102.3,777.7 100.6,780.8 98.9,782.9 C97.2,785.0 94.9,786.9 93.1,788.2 C91.2,789.5 89.6,790.4 87.8,790.6 C86.0,790.8 84.0,790.6 82.5,789.6 C81.0,788.6 79.7,786.5 79.1,784.8 C78.5,783.0 78.5,781.0 78.7,779.1 C78.9,777.2 79.5,775.0 80.1,773.3 C80.6,771.6 81.3,769.8 82.0,769.0 C82.7,768.2 83.7,768.2 84.4,768.4 C85.1,768.6 86.3,769.6 86.4,770.4 C86.5,771.2 85.4,771.8 84.9,773.3 C84.4,774.8 83.7,777.3 83.5,779.1 C83.3,780.9 83.5,782.6 84.0,783.9 C84.5,785.2 85.4,786.4 86.4,786.8 C87.4,787.2 88.8,787.0 90.2,786.3 C91.6,785.6 93.6,784.1 95.0,782.4 C96.4,780.7 97.7,778.4 98.4,776.2 C99.1,774.0 99.3,771.3 99.4,769.4 C99.5,767.5 99.3,765.8 98.9,764.6 C98.5,763.4 97.3,762.6 97.0,762.2" fill="none" />
<path d="M933.6,1221.7 Q941,1216 951.3,1216.5 M945.1,1232.1 Q953,1227 963.8,1228 M901.3,1277 Q902,1288 906.5,1295.7 M916.9,1282.2 Q918,1294 924.2,1303" fill="none"/>
<path d="M242.5,256.3 C242.0,258.2 239.8,263.9 239.3,268.0 C238.8,272.1 238.7,277.2 239.3,281.0 C240.0,284.8 243.4,287.5 243.2,291.0 C243.0,294.5 240.1,298.7 238.0,302.0 C235.9,305.3 234.2,306.6 230.7,310.6 C227.2,314.6 220.9,320.4 217.1,326.0 C213.3,331.6 210.2,338.1 208.1,344.1 C206.0,350.1 204.5,356.2 204.5,362.2 C204.5,368.2 206.0,375.3 208.1,380.3 C210.2,385.3 213.3,389.1 217.1,392.0 C220.9,394.9 227.2,396.6 230.7,397.5 C234.2,398.4 236.8,397.5 238.0,397.5 L238.0,390.2 C235.0,389.6 224.0,389.8 219.9,386.6 C215.8,383.4 214.1,376.8 213.5,371.2 C212.9,365.6 214.4,359.1 216.2,353.1 C218.0,347.1 221.2,340.7 224.4,335.0 C227.6,329.3 231.3,323.5 235.2,318.7 C239.1,313.9 245.2,309.8 247.9,306.0 C250.6,302.2 251.4,299.2 251.5,296.1 C251.6,293.0 249.1,290.3 248.3,287.1 C247.5,283.9 246.6,280.4 246.6,277.0 C246.6,273.6 247.3,270.0 248.5,266.5 C249.7,263.0 252.9,257.6 253.8,255.8 Z" fill="#fff"/>
<path d="M247.0,314.2 C246.4,316.8 244.8,325.0 243.5,330.0 C242.2,335.0 241.3,339.4 238.9,344.1 C236.5,348.8 232.3,354.1 229.0,358.0 C225.7,361.9 220.7,366.0 219.0,367.6" fill="none" />
<path d="M251.5,296.1 C253.0,296.7 257.3,298.5 260.6,299.7 C263.9,300.9 268.1,301.8 271.4,303.3 C274.7,304.8 278.2,306.8 280.5,308.8 C282.8,310.8 284.1,313.3 285.0,315.1 C285.9,316.9 285.8,318.9 285.9,319.6" fill="none" />
<path d="M279.6,321.4 C278.8,320.3 276.4,316.8 275.0,315.0 C273.6,313.2 273.9,311.9 271.4,310.6 C268.9,309.3 263.4,307.8 260.0,307.0 C256.6,306.2 252.5,306.2 251.0,306.0" fill="none" />
<path d="M427.0,403.0 C426.2,404.8 423.4,410.2 422.5,414.0 C421.6,417.8 421.0,422.5 421.6,425.7 C422.2,428.9 425.4,432.1 426.2,433.4 L432.5,432.1 C432.1,431.0 430.4,428.5 430.3,425.7 C430.2,422.9 430.9,418.5 431.9,415.4 C432.8,412.3 435.3,408.4 436.0,407.0 Z" fill="#fff"/>
<path d="M426.2,433.4 C424.9,435.5 420.3,441.6 418.5,446.0 C416.7,450.4 415.8,456.0 415.4,460.0 C415.0,464.0 415.4,467.6 416.2,470.0 C417.0,472.4 418.1,473.2 420.3,474.4 C422.5,475.6 427.0,476.8 429.3,477.0 C431.6,477.2 433.5,475.9 434.4,475.7" fill="none" />
<path d="M432.5,436.0 C431.2,437.8 426.8,443.3 425.0,447.0 C423.2,450.7 422.2,454.3 421.8,458.0 C421.4,461.7 422.1,466.9 422.9,469.3 C423.7,471.7 425.2,471.9 426.7,472.4 C428.2,472.8 431.1,472.1 432.0,472.0" fill="none" />
<path d="M432.5,432.1 C433.8,432.4 437.8,432.7 440.0,434.0 C442.2,435.3 444.4,437.5 446.0,440.0 C447.6,442.5 449.2,447.3 449.8,448.8" fill="none" />
<path d="M446.0,449.0 C445.2,448.0 443.0,444.5 441.0,443.0 C439.0,441.5 435.2,440.5 434.0,440.0" fill="none" />
<path d="M665.9,540.8 C664.8,543.3 660.5,551.8 659.5,556.0 C658.5,560.2 658.3,563.2 660.1,566.1 C661.9,569.0 668.5,572.1 670.2,573.3 L676.0,572.5 C674.8,571.5 670.2,569.2 668.8,566.5 C667.4,563.8 667.1,559.8 667.8,556.0 C668.5,552.2 672.2,545.8 673.1,543.7 Z" fill="#fff"/>
<path d="M670.2,573.3 C668.3,575.7 661.6,582.4 658.7,587.7 C655.8,593.0 652.9,601.0 652.9,605.1 C652.9,609.2 656.5,610.8 658.7,612.3 C660.9,613.8 663.0,614.4 665.9,614.4 C668.8,614.4 672.9,614.8 676.0,612.3 C679.1,609.8 682.8,603.4 684.6,599.3 C686.4,595.2 687.0,591.1 686.8,587.7 C686.6,584.3 685.0,581.5 683.2,579.1 C681.4,576.7 677.2,574.4 676.0,573.5" fill="none" />
<path d="M668.0,580.0 C665.2,581.8 662.8,588.0 661.5,592.0 C660.2,596.0 659.4,601.2 660.0,604.0 C660.6,606.8 663.0,607.9 665.0,608.5 C667.0,609.1 669.5,609.2 672.0,607.5 C674.5,605.8 678.3,601.4 680.0,598.0 C681.7,594.6 682.3,589.8 682.0,587.0 C681.7,584.2 680.3,582.2 678.0,581.0 C675.7,579.8 670.8,578.2 668.0,580.0 Z" fill="none" />
<path d="M820.6,584.4 C820.0,586.5 817.5,592.6 816.8,597.0 C816.1,601.4 815.8,607.2 816.3,611.0 C816.8,614.8 819.8,616.7 820.0,620.0 C820.2,623.3 820.5,625.9 817.7,630.6 C814.9,635.3 808.1,641.3 803.3,648.0 C798.5,654.7 792.3,663.5 788.9,671.0 C785.5,678.5 783.8,685.5 783.1,692.7 C782.4,699.9 782.8,708.8 784.5,714.3 C786.2,719.8 790.1,723.4 793.2,725.9 C796.3,728.4 799.0,729.0 803.3,729.5 C807.6,730.0 813.4,729.9 819.2,728.8 C825.0,727.7 832.9,725.9 837.9,723.0 C842.9,720.1 846.1,716.5 849.5,711.5 C852.9,706.5 856.0,699.5 858.2,692.7 C860.4,686.0 862.0,677.8 862.5,671.0 C863.0,664.2 861.5,655.8 861.0,652.0 C860.5,648.2 859.8,648.7 859.6,648.0" fill="none" />
<path d="M830.7,585.9 C829.6,588.2 825.2,595.0 824.0,600.0 C822.8,605.0 822.9,611.4 823.5,616.0 C824.1,620.6 827.8,624.1 827.8,627.7 C827.8,631.3 826.9,633.0 823.5,637.8 C820.1,642.6 812.4,649.6 807.6,656.6 C802.8,663.6 797.5,672.5 794.6,679.7 C791.7,686.9 790.5,693.6 790.3,699.9 C790.1,706.1 791.0,713.4 793.2,717.2 C795.4,721.1 799.0,722.0 803.3,723.0 C807.6,724.0 814.4,723.7 819.2,723.0 C824.0,722.3 827.6,722.6 832.2,718.7 C836.8,714.9 842.8,706.6 846.6,699.9 C850.5,693.2 854.1,685.5 855.3,678.3 C856.5,671.1 854.0,660.2 853.8,656.6" fill="none" />
<polyline points="820.6,584.4 830.7,585.9" fill="none" />
<path d="M814.9,656.6 C813.4,659.0 809.1,665.7 806.0,671.0 C802.9,676.3 797.8,685.5 796.1,688.4" fill="none" />
<path d="M827.8,627.7 C829.0,628.2 830.9,628.9 835.0,630.6 C839.1,632.3 848.5,636.1 852.4,637.8 C856.3,639.5 857.0,639.0 858.2,640.7 C859.4,642.4 859.4,646.8 859.6,648.0" fill="none" />
<path d="M853.8,648.0 C852.6,646.8 850.7,642.2 846.6,640.7 C842.5,639.2 832.2,639.5 829.3,639.3" fill="none" />
<ellipse cx="267" cy="873.5" rx="10.2" ry="15" transform="rotate(22 267 873.5)" fill="#fff"/>
<ellipse cx="267.3" cy="873.5" rx="7.8" ry="12.2" transform="rotate(22 267.3 873.5)"/>
<path d="M293.6,864.3 C291.9,865.9 286.6,870.3 283.1,874.2 C279.6,878.1 275.3,882.9 272.7,887.8 C270.1,892.7 268.4,898.2 267.5,903.4 C266.6,908.6 266.6,914.8 267.5,919.0 C268.4,923.2 270.3,925.9 272.7,928.4 C275.1,930.9 278.6,933.2 282.1,934.2 C285.6,935.2 291.7,934.2 293.6,934.2" fill="none" />
<path d="M290.4,862.7 C288.5,864.6 282.3,869.2 279.0,874.2 C275.7,879.2 272.0,886.4 270.6,893.0 C269.2,899.6 269.7,908.4 270.6,913.8 C271.5,919.2 273.6,922.5 275.9,925.3 C278.2,928.1 281.8,929.5 284.2,930.5 C286.6,931.5 289.4,930.9 290.4,931.0" fill="none" />
<polyline points="290.4,862.7 294.1,864.8" fill="none" />
<path d="M312.3,834.1 C314.2,835.2 320.8,838.0 323.8,840.9 C326.8,843.8 328.5,847.5 330.1,851.3 C331.7,855.1 333.0,858.8 333.2,863.8 C333.4,868.8 331.5,878.5 331.1,881.5 L323.8,879.4 C324.1,877.3 325.4,871.1 325.9,866.9 C326.4,862.7 327.2,858.6 326.9,854.4 C326.5,850.2 326.2,845.3 323.8,841.9 C321.4,838.5 314.2,835.4 312.3,834.1 Z" fill="#fff"/>
<polyline points="323.8,879.4 331.1,881.5" fill="none" />
<path d="M305.0,854.5 C306.2,854.2 309.8,852.9 312.0,853.0 C314.2,853.1 316.2,854.0 318.0,855.0 C319.8,856.0 322.0,858.3 322.8,859.0 L321.5,861.0 C319.9,860.3 314.7,857.5 312.0,857.0 C309.3,856.5 306.6,857.8 305.5,858.0 Z" fill="#fff"/>
<path d="M335.3,865.9 C335.1,868.7 336.5,877.7 334.2,882.6 C331.9,887.5 325.9,890.2 321.7,895.1 C317.5,900.0 312.8,906.0 309.2,911.7 C305.6,917.4 301.2,923.9 299.8,929.5 C298.4,935.1 299.3,940.4 300.9,945.1 C302.5,949.8 306.4,954.5 309.2,957.6 C312.0,960.7 314.5,962.9 317.6,963.9 C320.7,964.9 324.4,964.2 328.0,963.9 C331.6,963.5 337.5,962.1 339.4,961.8" fill="none" />
<path d="M325.9,881.5 C323.8,884.3 316.5,892.0 313.4,898.2 C310.3,904.5 308.2,912.0 307.1,919.0 C306.1,926.0 305.7,933.1 307.1,939.9 C308.5,946.7 312.0,956.6 315.5,959.7 C319.0,962.8 323.8,959.8 328.0,958.7 C332.2,957.7 338.4,954.3 340.5,953.4" fill="none" />
<path d="M328.0,896.1 C326.8,898.1 323.3,904.2 321.0,908.0 C318.7,911.8 315.5,917.2 314.4,919.0" fill="none" />
<polygon points="296.2,921.0 300.9,920.6 300.9,930.0 296.5,930.5" fill="#fff"/>
<polygon points="303.0,925.0 309.7,924.3 309.5,934.0 303.5,934.7" fill="#fff"/>
<path d="M335.3,868.0 C338.4,867.9 349.1,866.7 354.0,867.4 C358.9,868.1 361.0,869.6 364.5,872.1 C368.0,874.6 372.5,879.1 374.9,882.6 C377.3,886.1 378.3,891.3 379.0,893.0" fill="none" />
<path d="M336.3,873.2 C341.0,873.4 358.9,872.6 364.5,874.2 C370.1,875.8 368.5,878.4 369.7,882.6 C370.9,886.8 371.4,896.4 371.8,899.2" fill="none" />
<path d="M501.0,958.1 C502.0,958.5 505.3,958.8 507.1,960.2 C508.9,961.7 510.6,964.3 511.6,966.8 C512.6,969.3 513.2,972.3 513.2,975.4 C513.2,978.5 512.5,983.0 511.6,985.6 C510.7,988.2 508.3,989.9 507.6,990.7 L496.4,989.2 C496.9,988.8 498.1,988.1 499.4,986.6 C500.7,985.1 502.9,983.0 504.0,980.5 C505.1,978.0 505.9,974.2 506.0,971.4 C506.1,968.6 505.3,965.9 504.5,963.7 C503.7,961.5 501.6,959.0 501.0,958.1 Z" fill="#fff"/>
<polyline points="496.4,989.2 503.5,994.3 507.6,990.7" fill="none" />
<path d="M508.1,992.2 C507.3,992.6 506.1,992.4 503.5,994.3 C500.9,996.2 495.4,1000.2 492.8,1003.4 C490.2,1006.6 488.8,1010.2 487.7,1013.6 C486.6,1017.0 485.5,1020.1 486.2,1023.8 C486.9,1027.5 489.0,1033.5 491.8,1035.5 C494.6,1037.5 499.4,1036.5 503.0,1035.5 C506.6,1034.5 510.2,1032.2 513.2,1029.4 C516.2,1026.6 518.8,1022.6 520.8,1018.7 C522.8,1014.8 524.9,1009.8 525.4,1006.0 C525.9,1002.2 524.9,997.8 523.9,995.8 C522.9,993.8 520.1,994.1 519.3,993.8" fill="none" />
<path d="M508.1,995.8 C506.7,997.1 501.8,1000.0 499.4,1003.4 C497.0,1006.8 494.6,1012.8 493.8,1016.2 C493.0,1019.6 493.6,1021.8 494.3,1023.8 C495.0,1025.8 495.8,1028.2 497.9,1028.4 C499.9,1028.6 503.8,1027.3 506.6,1024.8 C509.4,1022.3 512.8,1017.6 514.7,1013.6 C516.7,1009.6 518.0,1004.1 518.3,1000.9 C518.6,997.7 517.0,995.4 516.7,994.3" fill="none" />
<path d="M669.0,1055.6 C670.1,1056.0 673.6,1056.5 675.6,1058.1 C677.6,1059.7 679.5,1062.8 680.7,1065.3 C681.9,1067.8 682.5,1070.5 682.7,1072.9 C682.9,1075.3 682.5,1077.2 681.7,1079.5 C681.0,1081.8 679.7,1084.6 678.2,1086.6 C676.7,1088.6 673.5,1090.8 672.6,1091.7 L665.4,1087.7 C666.3,1086.5 669.5,1083.0 671.0,1080.5 C672.5,1078.0 673.7,1075.8 674.1,1072.9 C674.5,1070.0 674.5,1066.1 673.6,1063.2 C672.8,1060.3 669.8,1056.9 669.0,1055.6 Z" fill="#fff"/>
<polyline points="665.4,1087.7 672.6,1091.7" fill="none" />
<path d="M669.0,1090.7 C667.8,1091.9 664.0,1094.8 661.9,1097.8 C659.8,1100.8 657.5,1104.6 656.3,1108.5 C655.1,1112.4 654.6,1118.7 654.8,1121.2 C655.0,1123.8 656.0,1123.6 657.3,1123.8 C658.6,1124.0 661.5,1122.5 662.4,1122.3 L661.9,1121.2 C662.1,1119.3 662.2,1113.4 663.4,1110.0 C664.6,1106.6 667.0,1103.4 669.0,1100.9 C671.0,1098.5 674.3,1097.0 675.6,1095.3 C676.9,1093.6 676.4,1091.5 676.6,1090.7 Z" fill="#fff"/>
<path d="M656.8,1124.0 C657.2,1125.1 657.4,1129.3 659.0,1130.5 C660.6,1131.7 665.5,1132.2 666.5,1130.9 C667.5,1129.7 665.2,1124.3 665.0,1123.0" fill="none" />
<path d="M852.6,1144.5 C854.2,1145.4 859.5,1147.8 862.5,1149.9 C865.5,1152.0 868.6,1154.1 870.7,1157.1 C872.8,1160.1 874.8,1164.1 875.2,1168.0 C875.7,1171.9 874.3,1176.6 873.4,1180.7 C872.5,1184.8 870.4,1190.5 869.8,1192.4 L863.4,1188.8 C863.9,1186.5 865.6,1179.3 866.2,1175.2 C866.8,1171.1 867.6,1168.3 867.1,1164.4 C866.6,1160.5 865.8,1155.0 863.4,1151.7 C861.0,1148.4 854.4,1145.7 852.6,1144.5 Z" fill="#fff"/>
<polyline points="863.4,1188.8 869.8,1192.4" fill="none" />
<path d="M865.2,1191.5 C863.4,1193.6 857.7,1199.4 854.4,1204.2 C851.1,1209.0 847.6,1215.5 845.3,1220.5 C843.0,1225.5 841.8,1229.6 840.8,1234.1 C839.8,1238.6 838.7,1242.9 839.0,1247.6 C839.3,1252.3 840.5,1258.0 842.6,1262.1 C844.7,1266.2 848.2,1269.7 851.7,1272.1 C855.2,1274.5 859.5,1276.1 863.4,1276.6 C867.3,1277.0 873.2,1275.1 875.2,1274.8" fill="none" />
<path d="M875.2,1191.5 C873.5,1193.0 868.4,1196.8 865.2,1200.6 C862.0,1204.4 858.9,1208.6 856.2,1214.2 C853.5,1219.8 850.5,1228.5 849.0,1234.1 C847.5,1239.7 847.0,1243.1 847.1,1247.6 C847.2,1252.1 848.2,1257.3 849.9,1261.2 C851.6,1265.1 853.2,1270.1 857.1,1271.2 C861.0,1272.3 870.7,1268.2 873.4,1267.6" fill="none" />
<polygon points="835.4,1232.0 840.5,1230.5 841.3,1239.5 835.5,1240.4" fill="#fff"/>
<polygon points="842.6,1236.0 849.5,1235.0 849.9,1243.5 843.0,1244.5" fill="#fff"/>
<path d="M877.0,1178.0 C880.2,1178.0 891.0,1177.0 896.0,1178.0 C901.0,1179.0 903.9,1182.0 906.9,1184.3 C909.9,1186.5 912.1,1189.1 914.1,1191.5 C916.1,1193.9 917.9,1197.6 918.6,1198.8" fill="none" />
<path d="M877.0,1183.8 C881.7,1183.9 899.7,1182.7 905.1,1184.3 C910.5,1185.9 908.6,1190.6 909.6,1193.3 C910.6,1196.0 911.1,1199.4 911.4,1200.6" fill="none" />
<path d="M861.0,661.0 C863.2,661.5 870.1,661.9 874.0,664.0 C877.9,666.1 881.9,670.3 884.1,673.9 C886.3,677.5 887.0,681.1 887.0,685.5 C887.0,689.9 885.4,695.2 884.0,700.0 C882.6,704.8 880.7,709.8 878.4,714.3 C876.1,718.8 872.9,723.4 870.0,727.0 C867.1,730.6 864.3,733.8 861.0,736.0 C857.7,738.2 853.4,739.8 850.0,740.5 C846.6,741.2 843.8,740.9 840.8,740.3 C837.8,739.7 834.6,738.9 832.0,737.0 C829.4,735.1 826.7,732.0 825.0,728.8 C823.3,725.6 822.2,721.6 822.0,718.0 C821.8,714.4 822.8,710.9 823.5,707.1 C824.2,703.3 825.0,698.6 826.5,695.0 C828.0,691.4 830.0,688.7 832.2,685.5 C834.5,682.3 837.4,678.6 840.0,676.0 C842.6,673.4 846.7,670.7 848.0,669.6" fill="none" />
<path d="M861.5,665.0 C863.4,665.5 869.8,666.0 873.0,668.0 C876.2,670.0 878.8,673.8 880.5,677.0 C882.2,680.2 883.0,683.2 883.0,687.0 C883.0,690.8 881.8,695.8 880.5,700.0 C879.2,704.2 877.2,708.5 875.0,712.5 C872.8,716.5 869.7,720.8 867.0,724.0 C864.3,727.2 862.0,729.8 859.0,731.8 C856.0,733.8 852.1,735.3 849.0,736.0 C845.9,736.7 843.2,736.6 840.5,736.2 C837.8,735.8 835.1,735.2 833.0,733.5 C830.9,731.8 829.2,728.8 828.0,726.0 C826.8,723.2 826.1,720.1 826.0,717.0 C825.9,713.9 826.8,710.8 827.5,707.5 C828.2,704.2 829.1,700.2 830.5,697.0 C831.9,693.8 833.9,690.8 836.0,688.0 C838.1,685.2 840.7,682.3 843.0,680.0 C845.3,677.7 848.8,675.0 850.0,674.0" fill="none" />
<polyline points="861.0,661.0 861.5,665.0" fill="none" />
<polyline points="848.0,669.6 850.0,674.0" fill="none" />
<g id="labels" stroke="#fff" stroke-width="0.4" stroke-linejoin="miter" font-family="Liberation Sans" font-size="24" fill="#444" text-anchor="middle">
<text x="571.1" y="376.6">5</text>
<text x="793.2" y="805.8">4</text>
<text x="858.1" y="914.3">3</text>
<text x="654.1" y="879.7">2</text>
<text x="580.2" y="932.1">5</text>
<text x="337.9" y="1053.6">4</text>
<text x="256.3" y="1079.5">3</text>
<text x="363.2" y="1466.4">8</text>
<text x="468.6" y="1548.1">8</text>
</g>
<path d="M654.3,347.6 L654.3,363.1 M648.2,351.6 Q651.8,350.2 654.3,347.6" stroke="#505050" stroke-width="1.9" stroke-linecap="butt" fill="none"/>
<g stroke="#fff" stroke-width="0.4" stroke-linejoin="miter" font-family="Liberation Sans" font-size="24" fill="#444" text-anchor="middle">
<text x="419.5" y="1261.6">6<tspan dx="3">·</tspan><tspan dx="3">7</tspan></text>
</g>
</svg>
<div class="t" style="left:50.6px;top:1671.8px;font-size:23px;color:#505050;-webkit-text-stroke:0.45px #fff;letter-spacing:0.41px">LT-F500FK4 P28 P33_055</div>
<div class="t" style="left:50px;top:1704.5px;font-size:23px;color:#505050;-webkit-text-stroke:0.45px #fff;letter-spacing:0.3px">FRONT DRIVE SHAFT</div>
</body></html>
